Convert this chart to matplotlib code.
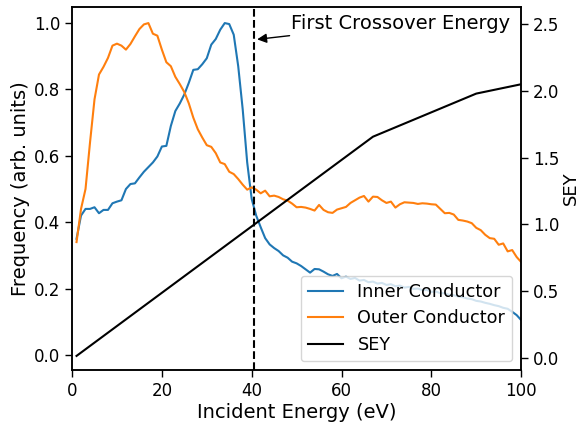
import matplotlib
matplotlib.use("Agg")
import matplotlib.pyplot as plt
import numpy as np

plt.rcParams['font.size'] = 12

# Incident energy grid (eV)
energy = np.arange(1, 101)

# Inner conductor frequency (arb. units)
inner = [0.35, 0.42, 0.44, 0.44, 0.445, 0.427, 0.437, 0.437, 0.457, 0.462,
         0.466, 0.50, 0.515, 0.517, 0.535, 0.552, 0.566, 0.58, 0.598, 0.628,
         0.630, 0.69, 0.735, 0.758, 0.785, 0.82, 0.859, 0.861, 0.876, 0.894,
         0.935, 0.952, 0.98, 1.0, 0.997, 0.965, 0.87, 0.74, 0.58, 0.47,
         0.42, 0.385, 0.352, 0.333, 0.322, 0.313, 0.300, 0.293, 0.281, 0.276,
         0.268, 0.258, 0.248, 0.259, 0.258, 0.251, 0.243, 0.238, 0.244, 0.231,
         0.236, 0.229, 0.232, 0.224, 0.226, 0.219, 0.221, 0.215, 0.217, 0.211,
         0.213, 0.207, 0.209, 0.203, 0.205, 0.199, 0.200, 0.195, 0.196, 0.190,
         0.191, 0.186, 0.186, 0.181, 0.180, 0.176, 0.174, 0.170, 0.168, 0.163,
         0.161, 0.157, 0.154, 0.150, 0.147, 0.142, 0.139, 0.13, 0.12, 0.105]

# Outer conductor frequency (arb. units)
outer = [0.34, 0.44, 0.50, 0.64, 0.77, 0.845, 0.868, 0.895, 0.932, 0.938,
         0.932, 0.92, 0.937, 0.96, 0.982, 0.996, 1.0, 0.968, 0.962, 0.92,
         0.882, 0.870, 0.838, 0.816, 0.792, 0.758, 0.715, 0.68, 0.655, 0.632,
         0.627, 0.608, 0.580, 0.575, 0.552, 0.545, 0.530, 0.513, 0.498, 0.505,
         0.498, 0.487, 0.495, 0.478, 0.48, 0.476, 0.469, 0.465, 0.456, 0.445,
         0.446, 0.444, 0.440, 0.435, 0.452, 0.437, 0.43, 0.428, 0.438, 0.442,
         0.446, 0.458, 0.466, 0.474, 0.479, 0.462, 0.477, 0.476, 0.466, 0.458,
         0.462, 0.444, 0.454, 0.460, 0.459, 0.458, 0.455, 0.457, 0.456, 0.454,
         0.453, 0.440, 0.427, 0.428, 0.423, 0.407, 0.405, 0.402, 0.397, 0.383,
         0.376, 0.362, 0.352, 0.350, 0.332, 0.336, 0.312, 0.316, 0.295, 0.28]

# SEY curve
sey_energy = [1, 67, 90, 100]
sey = [0.015, 1.657, 1.98, 2.05]

crossover = 40.6

fig, ax = plt.subplots(figsize=(5.81, 4.26), dpi=100)
fig.subplots_adjust(left=0.124, right=0.897, bottom=0.131, top=0.984)

l1, = ax.plot(energy, inner, color='#1f77b4', lw=1.5, label='Inner Conductor')
l2, = ax.plot(energy, outer, color='#ff7f0e', lw=1.5, label='Outer Conductor')
ax.axvline(crossover, color='black', ls='--', lw=1.5)
ax.annotate('First Crossover Energy', xy=(crossover, 0.95), xytext=(48.7, 1.0),
            ha='left', va='center', fontsize=14,
            arrowprops=dict(arrowstyle='-|>', color='black', lw=1))
ax.set_xlim(0, 100)
ax.set_ylim(-0.046, 1.049)
ax.set_xlabel('Incident Energy (eV)', fontsize=14, labelpad=2)
ax.set_ylabel('Frequency (arb. units)', fontsize=14, labelpad=3)
ax.set_xticks([0, 20, 40, 60, 80, 100])
ax.set_yticks([0.0, 0.2, 0.4, 0.6, 0.8, 1.0])

ax2 = ax.twinx()
l3, = ax2.plot(sey_energy, sey, color='black', lw=1.5, label='SEY')
ax2.set_ylim(-0.092, 2.63)
ax2.set_ylabel('SEY', fontsize=13, labelpad=2)
ax2.set_yticks([0.0, 0.5, 1.0, 1.5, 2.0, 2.5])

for a in (ax, ax2):
    a.tick_params(length=5, width=1)
    for s in a.spines.values():
        s.set_linewidth(1.1)

ax2.legend(handles=[l1, l2, l3], loc='lower right', fontsize=12.7)

fig.savefig('out.png', dpi=100)
